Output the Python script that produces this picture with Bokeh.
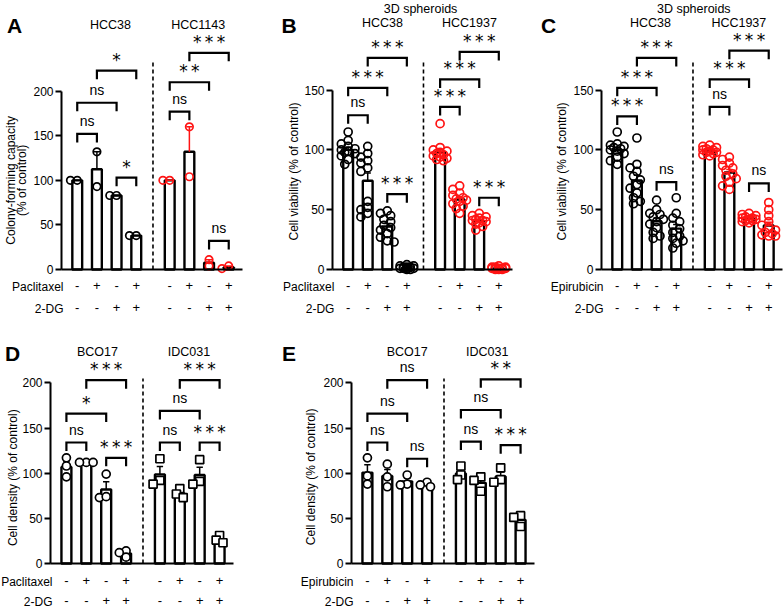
import numpy as np
from bokeh.plotting import figure
from bokeh.models import ColumnDataSource, FixedTicker, LinearAxis, Range1d
from bokeh.layouts import row, column
from bokeh.embed import file_html
from bokeh.resources import INLINE
from bokeh.core.properties import value

FONT = "Liberation Sans"
STAR_FONT = "DejaVu Sans"
BLACK = "#000000"
RED = "#ff1414"

# ---------------- data ----------------
POS = [0, 10, 20, 30, 47, 57, 67, 77]          # bar slots (2 cell lines x 4 conditions)
DASH_X = 38.5
DRUG_SIGNS = ["-", "+", "-", "+", "-", "+", "-", "+"]
DG_SIGNS = ["-", "-", "+", "+", "-", "-", "+", "+"]
BR_FROM = [0, 0, 1, 2, 4, 4, 5, 6]
BR_TO = [1, 2, 3, 3, 5, 6, 7, 7]

A_lines = ["HCC38", "HCC1143"]
A_vals = [[100, 100], [132, 93], [83, 83], [38, 38],
          [100, 100], [160, 104], [4, 11], [1, 4]]
A_br_y = [152, 187, 223, 103, 177, 210, 243, 32]
A_br_txt = ["ns", "ns", "*", "*", "ns", "**", "***", "ns"]

B_lines = ["HCC38", "HCC1937"]
B_vals = [[115, 108, 105, 103, 101, 100, 99, 98, 97, 95, 92, 88],
          [103, 97, 94, 91, 89, 85, 82, 57, 52, 50, 47, 44],
          [49, 47, 45, 42, 40, 37, 35, 33, 30, 27, 24, 23],
          [4, 3, 2, 2, 1, 1, 0, 0, 1, 2, 3, 1],
          [122, 102, 100, 99, 98, 97, 96, 95, 94, 93, 92, 91],
          [70, 67, 64, 62, 60, 59, 58, 57, 55, 53, 51, 47],
          [47, 45, 44, 43, 42, 41, 41, 40, 39, 38, 36, 33],
          [3, 2, 1, 1, 0, 0, 1, 2, 1, 0, 1, 2]]
B_br_y = [129, 152, 177, 63, 136, 159, 182, 60]
B_br_txt = ["ns", "***", "***", "***", "***", "***", "***", "***"]

C_lines = ["HCC38", "HCC1937"]
C_vals = [[115, 105, 104, 103, 102, 101, 100, 99, 97, 94, 91, 88],
          [110, 88, 85, 82, 78, 75, 71, 68, 64, 60, 57, 55],
          [58, 50, 47, 46, 44, 42, 40, 38, 35, 31, 28, 26],
          [60, 47, 43, 40, 37, 34, 31, 28, 26, 24, 22, 18],
          [104, 103, 102, 101, 100, 100, 99, 98, 98, 97, 96, 95],
          [94, 92, 89, 87, 85, 83, 80, 78, 76, 73, 70, 67],
          [47, 46, 45, 44, 43, 43, 42, 42, 41, 41, 40, 39],
          [56, 50, 45, 40, 37, 35, 33, 31, 30, 29, 28, 28]]
C_br_y = [128, 152, 177, 73, 136, 159, 183, 72]
C_br_txt = ["***", "***", "***", "ns", "ns", "***", "***", "ns"]

D_lines = ["BCO17", "IDC031"]
D_vals = [[117, 108, 96], [112, 112, 112], [99, 73, 74], [14, 12, 7],
          [116, 92, 88], [83, 77, 73], [115, 91, 88], [31, 26, 23]]
D_br_y = [134, 166, 203, 117, 134, 169, 203, 134]
D_br_txt = ["ns", "*", "***", "***", "ns", "ns", "***", "***"]

E_lines = ["BCO17", "IDC031"]
E_vals = [[117, 97, 88], [110, 96, 85], [98, 88, 87], [90, 87, 85],
          [108, 98, 93], [96, 92, 80], [106, 93, 90], [53, 51, 41]]
E_br_y = [134, 166, 203, 116, 135, 170, 204, 131]
E_br_txt = ["ns", "ns", "ns", "ns", "ns", "ns", "**", "***"]


def swarm_offsets(vals, ppx, ppy, diam=5.5, step=3.4, kmax=2):
    order = sorted(range(len(vals)), key=lambda i: -vals[i])
    cands = [0]
    for k in range(1, kmax + 1):
        cands += [-k, k]
    placed, offs = [], [0.0] * len(vals)
    for i in order:
        vy = vals[i] * ppy
        best, bestd = 0, -1.0
        for k in cands:
            ox = k * step
            d = min([((ox - px) ** 2 + (vy - py) ** 2) ** 0.5 for px, py in placed] or [1e9])
            if d >= diam:
                best = k
                break
            if d > bestd:
                best, bestd = k, d
        placed.append((best * step, vy))
        offs[i] = best * step / ppx
    return offs


def txt(p, x, y, t, size, **kw):
    kw.setdefault("text_align", "center")
    kw.setdefault("text_baseline", "middle")
    kw.setdefault("text_font", value(FONT))
    p.text(x=x, y=y, text=t, text_font_size=size, text_color=BLACK, **kw)


def panel(cfg, letter, lines, vals, br_y, br_txt, drug_name, col2, marker, fill_alpha):
    W, H = cfg["W"], cfg["H"]
    bl, brt, bb = cfg["left"], cfg["right"], cfg["bottom"]
    ytop = cfg["ytop"]
    ppx = (W - bl - brt) / 92.0
    ppy = (H - bb) / ytop
    x_lo, x_hi = -8 - bl / ppx, 84 + brt / ppx
    y_lo = -bb / ppy
    p = figure(width=W, height=H, x_range=Range1d(x_lo, x_hi), y_range=Range1d(y_lo, ytop),
               output_backend="svg", toolbar_location=None,
               x_axis_location=None, y_axis_location=None,
               min_border=0, min_border_left=0, min_border_right=0,
               min_border_top=0, min_border_bottom=0)
    p.outline_line_color = None
    p.grid.visible = False

    yax = LinearAxis(fixed_location=-8, ticker=FixedTicker(ticks=cfg["yticks"], minor_ticks=[]),
                     bounds=(0, cfg["yticks"][-1]))
    yax.major_tick_out = 6
    yax.major_tick_in = 0
    yax.minor_tick_out = 0
    yax.minor_tick_in = 0
    yax.axis_line_width = 2
    yax.major_tick_line_width = 2
    yax.axis_line_color = BLACK
    yax.major_tick_line_color = BLACK
    yax.major_label_text_font = FONT
    yax.major_label_text_font_size = "12px"
    yax.major_label_text_color = BLACK
    yax.major_label_standoff = 2
    p.add_layout(yax, "left")

    def xaxis(signs, standoff, line):
        ax = LinearAxis(fixed_location=0, ticker=FixedTicker(ticks=POS, minor_ticks=[]),
                        bounds=(-8, 84))
        ax.major_label_overrides = {k: s for k, s in zip(POS, signs)}
        ax.major_tick_out = 0
        ax.major_tick_in = 0
        ax.minor_tick_out = 0
        ax.minor_tick_in = 0
        ax.major_tick_line_color = None
        ax.axis_line_width = 2
        ax.axis_line_color = BLACK if line else None
        ax.major_label_text_font = FONT
        ax.major_label_text_font_size = "13px"
        ax.major_label_text_color = BLACK
        ax.major_label_standoff = standoff
        p.add_layout(ax, "below")

    means = [float(np.mean(v)) for v in vals]
    sems = [float(np.std(v, ddof=1) / np.sqrt(len(v))) for v in vals]
    cols = [BLACK] * 4 + [col2] * 4

    # bars
    p.vbar(x=POS, top=means, bottom=0, width=5, fill_color="white",
           line_color=BLACK, line_width=2.4)
    # error bars (mean + SEM)
    up = [m + s for m, s in zip(means, sems)]
    p.segment(x0=POS, y0=means, x1=POS, y1=up, line_color=cols, line_width=1.5)
    p.segment(x0=[x - 1.6 for x in POS], y0=up, x1=[x + 1.6 for x in POS], y1=up,
              line_color=cols, line_width=1.5)
    # points
    px, py, pc = [], [], []
    for i, v in enumerate(vals):
        offs = swarm_offsets(v, ppx, ppy)
        for o, yy in zip(offs, v):
            px.append(POS[i] + o)
            py.append(yy)
            pc.append(cols[i])
    mk = [marker[0]] * (len(px) // 2) + [marker[1]] * (len(px) - len(px) // 2)
    src = ColumnDataSource(dict(x=px, y=py, c=pc, m=mk))
    p.scatter(x="x", y="y", marker="m", size=cfg["msize"], line_color="c",
              fill_color="white", fill_alpha=fill_alpha, line_width=1.7, source=src)

    # axes drawn after the marks
    xaxis(DRUG_SIGNS, cfg["s1"], True)
    xaxis(DG_SIGNS, cfg["s2"], False)

    # significance brackets
    tick_u = 8.5 / ppy
    xs = [[POS[a], POS[a], POS[b], POS[b]] for a, b in zip(BR_FROM, BR_TO)]
    ys = [[y - tick_u, y, y, y - tick_u] for y in br_y]
    p.multi_line(xs, ys, line_color=BLACK, line_width=2.2, line_join="miter")
    mid = [(POS[a] + POS[b]) / 2 for a, b in zip(BR_FROM, BR_TO)]
    ns_x = [m for m, t in zip(mid, br_txt) if t == "ns"]
    ns_y = [y + 13 / ppy for y, t in zip(br_y, br_txt) if t == "ns"]
    st_x = [m for m, t in zip(mid, br_txt) if t != "ns"]
    st_y = [y + 11 / ppy for y, t in zip(br_y, br_txt) if t != "ns"]
    st_t = ["\u2009".join(list(t)) for t in br_txt if t != "ns"]
    txt(p, ns_x, ns_y, ["ns"] * len(ns_x), "14px")
    txt(p, st_x, st_y, st_t, "17px", text_font=value(STAR_FONT))

    # dashed separator
    p.segment(x0=[DASH_X], y0=[0], x1=[DASH_X], y1=[cfg["dash_top"]],
              line_color=BLACK, line_width=1.6, line_dash="4 3")

    # cell line names and headings
    txt(p, cfg["gx"], [cfg["gy"]] * 2, lines, "12.5px")
    if "super" in cfg:
        sx, sy = cfg["super"]
        txt(p, [sx], [sy], ["3D spheroids"], "12.5px")
    lx, ly = cfg["letter"]
    txt(p, [lx], [ly], [letter], "21px", text_font_style="bold")
    for t, tx in cfg["ytitle"]:
        txt(p, [tx], [cfg["ytitle_y"]], [t], "12px", angle=np.pi / 2)
    # row titles
    txt(p, [-7, -7], [-cfg["r1"] / ppy, -cfg["r2"] / ppy], [drug_name, "2-DG"], "12px",
        text_align="right")
    return p


cfgA = dict(W=262, H=325, left=61, right=20, bottom=56, ytop=301.7,
            yticks=[0, 50, 100, 150, 200], dash_top=235, gx=[16.9, 61.5], gy=274,
            letter=(-31.9, 274), ytitle=[("Colony-forming capacity", -33.9),
                                         ("(% of control)", -28.3)],
            ytitle_y=100, r1=17.7, r2=39.7, s1=11, s2=33, msize=7.5)
cfgB = dict(W=268, H=325, left=70, right=18, bottom=56, ytop=225.0,
            yticks=[0, 50, 100, 150], dash_top=175, gx=[17.5, 62], gy=206,
            super=(37, 218.3), letter=(-30.2, 204.4),
            ytitle=[("Cell viability (% of control)", -27.6)], ytitle_y=82,
            r1=17.7, r2=39.7, s1=11, s2=33, msize=8)
cfgC = dict(W=254, H=325, left=71, right=2, bottom=56, ytop=225.0,
            yticks=[0, 50, 100, 150], dash_top=175, gx=[16.9, 61.8], gy=206,
            super=(38.9, 218.3), letter=(-34.9, 204.4),
            ytitle=[("Cell viability (% of control)", -27.9)], ytitle_y=82,
            r1=17.7, r2=39.7, s1=11, s2=33, msize=8)
cfgD = dict(W=262, H=283, left=50, right=29, bottom=45, ytop=263.6,
            yticks=[0, 50, 100, 150, 200], dash_top=205, gx=[15.6, 61.6], gy=234.3,
            letter=(-27, 232.9), ytitle=[("Cell density (% of control)", -27.1)],
            ytitle_y=95, r1=18.4, r2=38.5, s1=12, s2=32, msize=8)
cfgE = dict(W=283, H=283, left=89, right=11, bottom=45, ytop=263.6,
            yticks=[0, 50, 100, 150, 200], dash_top=205, gx=[20, 60.2], gy=234.3,
            letter=(-39.4, 232.9), ytitle=[("Cell density (% of control)", -28.4)],
            ytitle_y=96, r1=18.4, r2=38.5, s1=12, s2=32, msize=8)

pA = panel(cfgA, "A", A_lines, A_vals, A_br_y, A_br_txt, "Paclitaxel", RED,
           ("circle", "circle"), 0.0)
pB = panel(cfgB, "B", B_lines, B_vals, B_br_y, B_br_txt, "Paclitaxel", RED,
           ("circle", "circle"), 0.0)
pC = panel(cfgC, "C", C_lines, C_vals, C_br_y, C_br_txt, "Epirubicin", RED,
           ("circle", "circle"), 0.0)
pD = panel(cfgD, "D", D_lines, D_vals, D_br_y, D_br_txt, "Paclitaxel", BLACK,
           ("circle", "square"), 1.0)
pE = panel(cfgE, "E", E_lines, E_vals, E_br_y, E_br_txt, "Epirubicin", BLACK,
           ("circle", "square"), 1.0)

layout = column(row(pA, pB, pC), row(pD, pE))
open("out.html", "w").write(file_html(layout, INLINE))
